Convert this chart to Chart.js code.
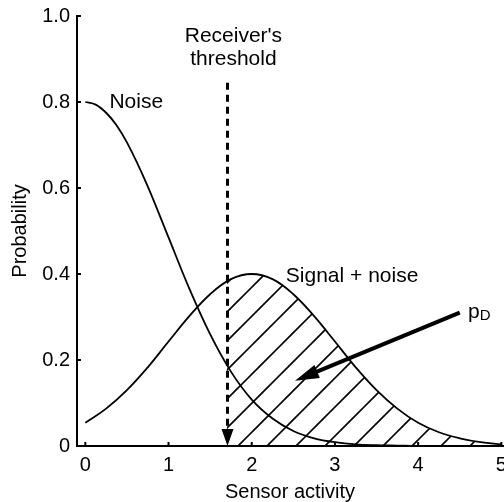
<!DOCTYPE html>
<html>
<head>
<meta charset="utf-8">
<script src="https://cdn.jsdelivr.net/npm/chart.js@4"></script>
<style>
  html, body { margin: 0; padding: 0; background: #fff; }
  #wrap { width: 504px; height: 502px; }
</style>
</head>
<body>
<div id="wrap"><canvas id="chart" width="504" height="502"></canvas></div>
<script>
// values
const noiseX = [0, 0.125, 0.25, 0.375, 0.5, 0.75, 1, 1.25, 1.5, 1.75, 2, 2.25, 2.5, 2.75, 3, 3.25, 3.5, 3.75, 4, 4.5, 5];
const noiseP = [0.80, 0.794, 0.775, 0.746, 0.706, 0.604, 0.485, 0.366, 0.260, 0.173, 0.108, 0.064, 0.035, 0.018, 0.009, 0.004, 0.002, 0.001, 0, 0, 0];
const signalX = [0, 0.25, 0.5, 0.75, 1, 1.25, 1.5, 1.75, 2, 2.25, 2.5, 2.75, 3, 3.25, 3.5, 3.75, 4, 4.25, 4.5, 4.75, 5];
const signalP = [0.054, 0.087, 0.130, 0.183, 0.243, 0.302, 0.353, 0.388, 0.400, 0.388, 0.353, 0.302, 0.243, 0.183, 0.130, 0.087, 0.054, 0.032, 0.018, 0.009, 0.004];
const thresholdX = 1.7;
const thresholdP = 0.382;   // signal height at the threshold
const xTicks = [0, 1, 2, 3, 4, 5];
const yTicks = [0, 0.2, 0.4, 0.6, 0.8, 1.0];

const FONT = '"Liberation Sans", Arial, Helvetica, sans-serif';

const pts = (xs, ys) => xs.map((x, i) => ({ x: x, y: ys[i] }));

// shaded part of signal + noise, right of the threshold
const hatchPts = [{ x: thresholdX, y: thresholdP }].concat(
  pts(signalX, signalP).filter(p => p.x > thresholdX)
);

const ctx = document.getElementById('chart').getContext('2d');

/**
 * Diagonal hatch pattern (45 deg lines, 29px apart)
 */
function makeHatch() {
  const c = document.createElement('canvas');
  c.width = 29;
  c.height = 29;
  const g = c.getContext('2d');
  g.strokeStyle = '#000';
  g.lineWidth = 1.6;
  g.beginPath();
  g.moveTo(-3, 20); g.lineTo(20, -3);
  g.moveTo(14, 32); g.lineTo(32, 14);
  g.stroke();
  return ctx.createPattern(c, 'repeat');
}

function arrowHead(c, tipX, tipY, fromX, fromY, len, half) {
  const a = Math.atan2(tipY - fromY, tipX - fromX);
  c.beginPath();
  c.moveTo(tipX, tipY);
  c.lineTo(tipX - len * Math.cos(a) + half * Math.sin(a), tipY - len * Math.sin(a) - half * Math.cos(a));
  c.lineTo(tipX - len * Math.cos(a) - half * Math.sin(a), tipY - len * Math.sin(a) + half * Math.cos(a));
  c.closePath();
  c.fill();
}

// threshold line, arrows, inner tick marks and labels
const annotations = {
  id: 'annotations',
  afterDatasetsDraw(chart) {
    const c = chart.ctx;
    const xs = chart.scales.x;
    const ys = chart.scales.y;
    const X = v => xs.getPixelForValue(v);
    const Y = v => ys.getPixelForValue(v);
    c.save();
    c.strokeStyle = '#000';
    c.fillStyle = '#000';

    // inner tick marks
    c.lineWidth = 2;
    c.beginPath();
    xTicks.forEach(v => { c.moveTo(X(v), ys.bottom); c.lineTo(X(v), ys.bottom - 4); });
    yTicks.forEach(v => { c.moveTo(xs.left, Y(v)); c.lineTo(xs.left + 4, Y(v)); });
    c.stroke();

    // receiver's threshold
    const tx = Math.round(X(thresholdX)) + 0.5;
    c.lineWidth = 3;
    c.setLineDash([7, 5]);
    c.beginPath();
    c.moveTo(tx, Y(0.845));
    c.lineTo(tx, Y(0) - 12);
    c.stroke();
    c.setLineDash([]);
    arrowHead(c, tx, Y(0), tx, Y(0.5), 17, 6);

    // pD arrow
    const ax0 = X(4.5), ay0 = Y(0.31), ax1 = X(2.52), ay1 = Y(0.152);
    c.lineWidth = 4;
    c.beginPath();
    c.moveTo(ax0, ay0);
    const ang = Math.atan2(ay1 - ay0, ax1 - ax0);
    c.lineTo(ax1 - 14 * Math.cos(ang), ay1 - 14 * Math.sin(ang));
    c.stroke();
    arrowHead(c, ax1, ay1, ax0, ay0, 24, 7);

    // text
    c.font = '21px ' + FONT;
    c.textBaseline = 'middle';
    c.textAlign = 'center';
    c.fillText("Receiver's", X(1.78), Y(0.953));
    c.fillText('threshold', X(1.78), Y(0.899));
    c.textAlign = 'left';
    c.fillText('Noise', X(0.29), Y(0.80));
    c.fillText('Signal + noise', X(2.41), Y(0.395));
    c.textBaseline = 'alphabetic';
    c.fillText('p', X(4.6), Y(0.31) + 5);
    const pw = c.measureText('p').width;
    c.font = '15px ' + FONT;
    c.fillText('D', X(4.6) + pw, Y(0.31) + 7);
    c.restore();
  }
};

new Chart(ctx, {
  type: 'line',
  data: {
    datasets: [
      {
        label: 'Shaded',
        data: hatchPts,
        borderWidth: 0,
        borderColor: 'rgba(0,0,0,0)',
        backgroundColor: makeHatch(),
        fill: 'origin',
        pointRadius: 0,
        tension: 0.4
      },
      {
        label: 'Noise',
        data: pts(noiseX, noiseP),
        borderColor: '#000',
        borderWidth: 1.8,
        fill: false,
        pointRadius: 0,
        cubicInterpolationMode: 'monotone'
      },
      {
        label: 'Signal + noise',
        data: pts(signalX, signalP),
        borderColor: '#000',
        borderWidth: 1.8,
        fill: false,
        pointRadius: 0,
        tension: 0.4
      }
    ]
  },
  options: {
    responsive: false,
    animation: false,
    devicePixelRatio: 1,
    layout: { padding: { left: 0, top: 16, right: 1, bottom: 0 } },
    plugins: {
      legend: { display: false },
      tooltip: { enabled: false }
    },
    scales: {
      x: {
        type: 'linear',
        min: -0.1,
        max: 5.02,
        afterBuildTicks: s => { s.ticks = xTicks.map(v => ({ value: v })); },
        afterFit: s => { s.height = 56; s.paddingLeft = 0; s.paddingRight = 0; },
        grid: { display: false, drawTicks: false },
        border: { display: true, color: '#000', width: 2 },
        ticks: {
          color: '#000',
          font: { family: FONT, size: 20 },
          padding: 7,
          maxRotation: 0
        },
        title: {
          display: true,
          text: 'Sensor activity',
          color: '#000',
          font: { family: FONT, size: 20 },
          padding: { top: 0, bottom: -2 }
        }
      },
      y: {
        min: 0,
        max: 1.0,
        afterBuildTicks: s => { s.ticks = yTicks.map(v => ({ value: v })); },
        afterFit: s => { s.width = 77; s.paddingTop = 0; s.paddingBottom = 0; },
        grid: { display: false, drawTicks: false },
        border: { display: true, color: '#000', width: 2 },
        ticks: {
          color: '#000',
          font: { family: FONT, size: 20 },
          padding: 7,
          callback: v => (v === 0 ? '0' : v.toFixed(1))
        },
        title: {
          display: true,
          text: 'Probability',
          color: '#000',
          font: { family: FONT, size: 20 },
          padding: { top: 8, bottom: 0 }
        }
      }
    }
  },
  plugins: [annotations]
});
</script>
</body>
</html>
